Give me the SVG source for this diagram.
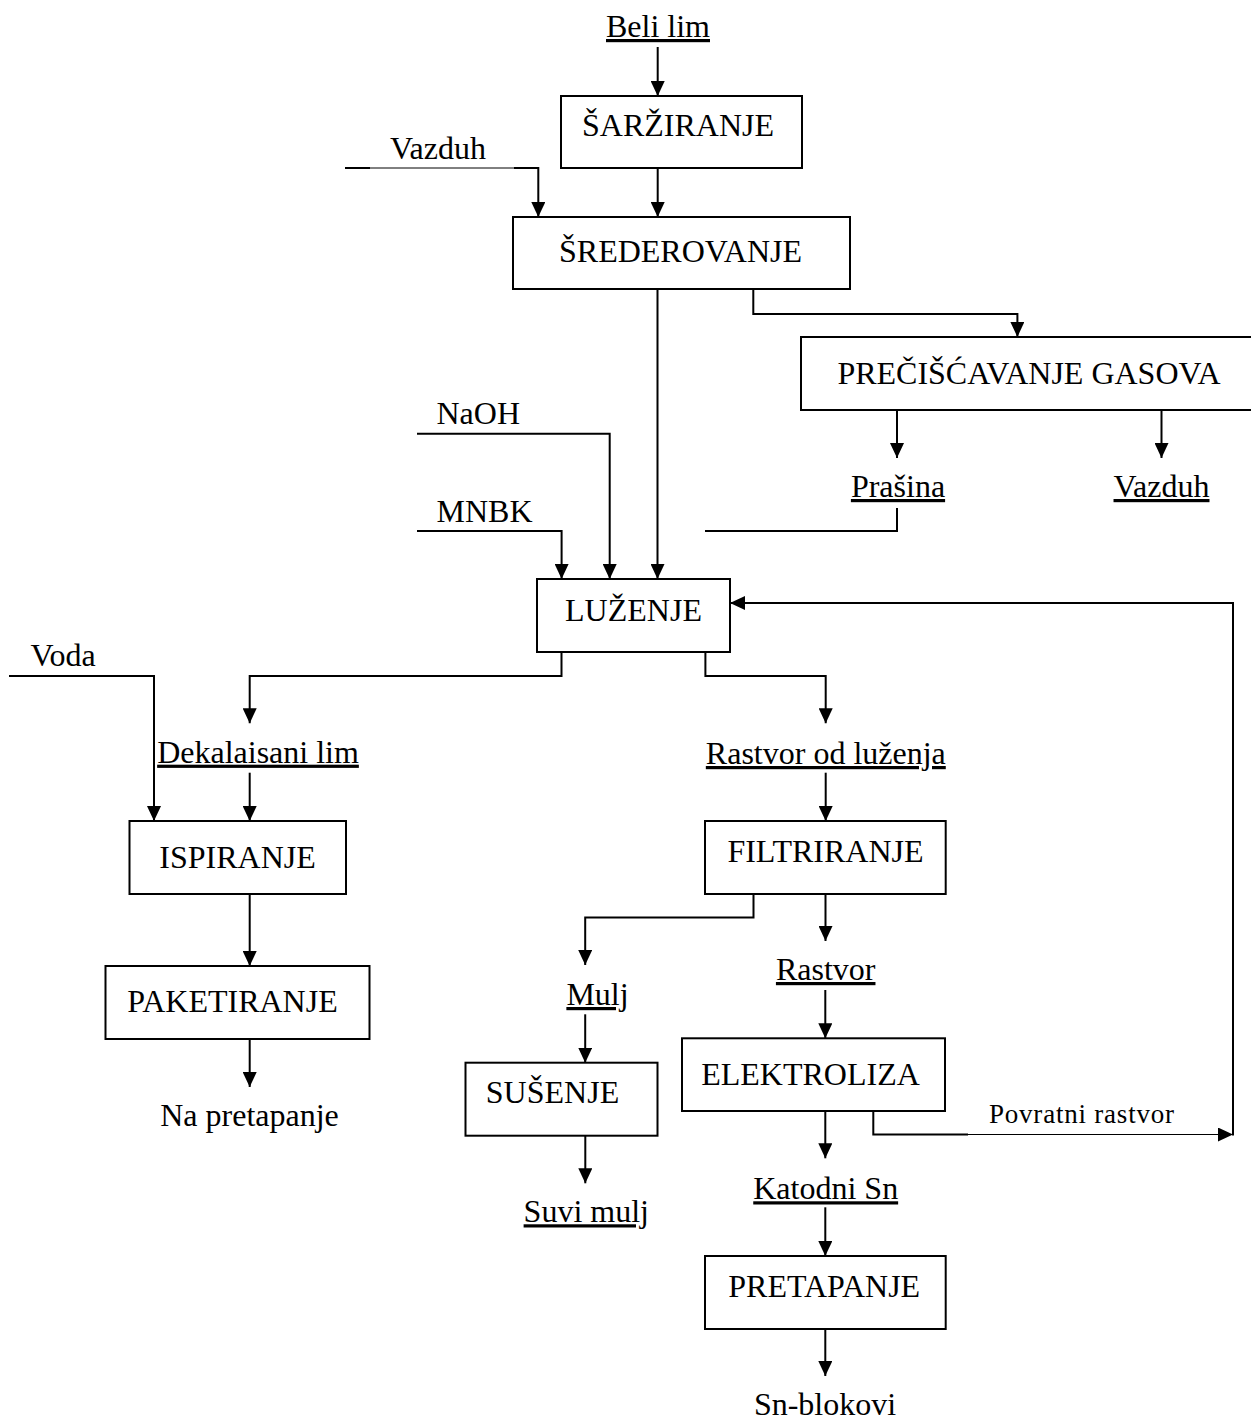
<svg xmlns="http://www.w3.org/2000/svg" width="1251" height="1420" viewBox="0 0 1251 1420">
<style>
  .box { fill: #ffffff; stroke: #000000; stroke-width: 2; }
  .lbl { font-family: "Liberation Serif", "Times New Roman", serif; font-size: 32px; fill: #000000; }
  .mid { text-anchor: middle; }
  .ul { text-decoration: underline; }
  .con { fill: none; stroke: #000000; stroke-width: 2; }
  .thin { fill: none; stroke: #000000; stroke-width: 1; }
  .arr { marker-end: url(#ah); }
</style>
<defs>
  <marker id="ah" viewBox="0 0 15 14" refX="15" refY="7" markerWidth="15" markerHeight="14" markerUnits="userSpaceOnUse" orient="auto">
    <path d="M0,0 L15,7 L0,14 z" fill="#000000"/>
  </marker>
</defs>
<rect width="1251" height="1420" fill="#ffffff"/>

<g id="connectors">
  <path class="con arr" d="M657.7,47 V96"/>
  <path class="con arr" d="M657.7,168 V217"/>
  <path class="con" d="M345,168 H370"/>
  <path class="thin" d="M370,168 H514"/>
  <path class="con arr" d="M514,168 H538.3 V217"/>
  <path class="con arr" d="M657.5,289 V579"/>
  <path class="con arr" d="M753.3,289 V314 H1017.4 V337"/>
  <path class="con arr" d="M897,410 V458"/>
  <path class="con arr" d="M1161.5,410 V458"/>
  <path class="con" d="M897,508 V531 H705"/>
  <path class="con arr" d="M417,433.7 H609.7 V579"/>
  <path class="con arr" d="M417,531 H561.6 V579"/>
  <path class="con arr" d="M1233,1135.5 V603 H730"/>
  <path class="con arr" d="M561.5,652 V676 H249.7 V723.3"/>
  <path class="con arr" d="M705.4,652 V676 H825.7 V723.3"/>
  <path class="con arr" d="M9,676 H154 V821"/>
  <path class="con arr" d="M249.7,772.7 V821"/>
  <path class="con arr" d="M249.7,894 V966"/>
  <path class="con arr" d="M249.7,1039 V1087"/>
  <path class="con arr" d="M825.7,772.7 V821"/>
  <path class="con arr" d="M753.5,894 V917.5 H585.2 V965"/>
  <path class="con arr" d="M825.5,894 V941"/>
  <path class="con arr" d="M585.2,1014.3 V1062.7"/>
  <path class="con arr" d="M825.3,990 V1038.3"/>
  <path class="con arr" d="M585.3,1135.7 V1183.3"/>
  <path class="con arr" d="M825.3,1111 V1158.3"/>
  <path class="con" d="M873.3,1111 V1134.5 H968"/>
  <path class="thin arr" d="M968,1134.5 H1233"/>
  <path class="con arr" d="M825.3,1207.3 V1256"/>
  <path class="con arr" d="M825.3,1329 V1376"/>
</g>

<g id="beli-lim"><text class="lbl mid ul" x="658" y="37">Beli lim</text></g>
<g id="sarziranje">
  <rect class="box" x="561" y="96" width="241" height="72"/>
  <text class="lbl mid" x="678" y="136">ŠARŽIRANJE</text>
</g>
<g id="vazduh-in"><text class="lbl" x="390" y="159">Vazduh</text></g>
<g id="srederovanje">
  <rect class="box" x="513" y="217" width="337" height="72"/>
  <text class="lbl mid" x="680.5" y="262">ŠREDEROVANJE</text>
</g>
<g id="preciscavanje">
  <rect class="box" x="801" y="337" width="452" height="73"/>
  <text class="lbl mid" x="1029" y="384">PREČIŠĆAVANJE GASOVA</text>
</g>
<g id="prasina"><text class="lbl mid ul" x="898" y="497">Prašina</text></g>
<g id="vazduh-out"><text class="lbl mid ul" x="1161.5" y="497">Vazduh</text></g>
<g id="naoh"><text class="lbl" x="436.5" y="424">NaOH</text></g>
<g id="mnbk"><text class="lbl" x="436.5" y="521.7">MNBK</text></g>
<g id="luzenje">
  <rect class="box" x="537" y="579" width="193" height="73"/>
  <text class="lbl mid" x="633.5" y="621">LUŽENJE</text>
</g>
<g id="voda"><text class="lbl" x="30.5" y="666">Voda</text></g>
<g id="dekalaisani"><text class="lbl mid ul" x="258" y="762.7">Dekalaisani lim</text></g>
<g id="rastvor-luzenja"><text class="lbl mid ul" x="825.8" y="764">Rastvor od luženja</text></g>
<g id="ispiranje">
  <rect class="box" x="129.5" y="821" width="216.5" height="73"/>
  <text class="lbl mid" x="237.5" y="868">ISPIRANJE</text>
</g>
<g id="filtriranje">
  <rect class="box" x="705" y="821" width="240.7" height="73"/>
  <text class="lbl mid" x="825.5" y="861.7">FILTRIRANJE</text>
</g>
<g id="rastvor"><text class="lbl mid ul" x="825.7" y="980">Rastvor</text></g>
<g id="mulj"><text class="lbl mid ul" x="597.5" y="1005">Mulj</text></g>
<g id="paketiranje">
  <rect class="box" x="105.5" y="966" width="264" height="73"/>
  <text class="lbl mid" x="232.5" y="1012">PAKETIRANJE</text>
</g>
<g id="susenje">
  <rect class="box" x="465.5" y="1062.7" width="192" height="73"/>
  <text class="lbl mid" x="552.5" y="1102.7">SUŠENJE</text>
</g>
<g id="elektroliza">
  <rect class="box" x="682" y="1038.3" width="263" height="72.7"/>
  <text class="lbl mid" x="810.5" y="1085">ELEKTROLIZA</text>
</g>
<g id="na-pretapanje"><text class="lbl mid" x="249.5" y="1125.7">Na pretapanje</text></g>
<g id="povratni"><text class="lbl" x="989" y="1123" style="font-size:27px" textLength="185" lengthAdjust="spacing">Povratni rastvor</text></g>
<g id="suvi-mulj"><text class="lbl mid ul" x="586.3" y="1222.3">Suvi mulj</text></g>
<g id="katodni"><text class="lbl mid ul" x="825.7" y="1199.3">Katodni Sn</text></g>
<g id="pretapanje">
  <rect class="box" x="705" y="1256" width="240.7" height="73"/>
  <text class="lbl mid" x="824.2" y="1296.7">PRETAPANJE</text>
</g>
<g id="sn-blokovi"><text class="lbl mid" x="825" y="1415">Sn-blokovi</text></g>
</svg>
